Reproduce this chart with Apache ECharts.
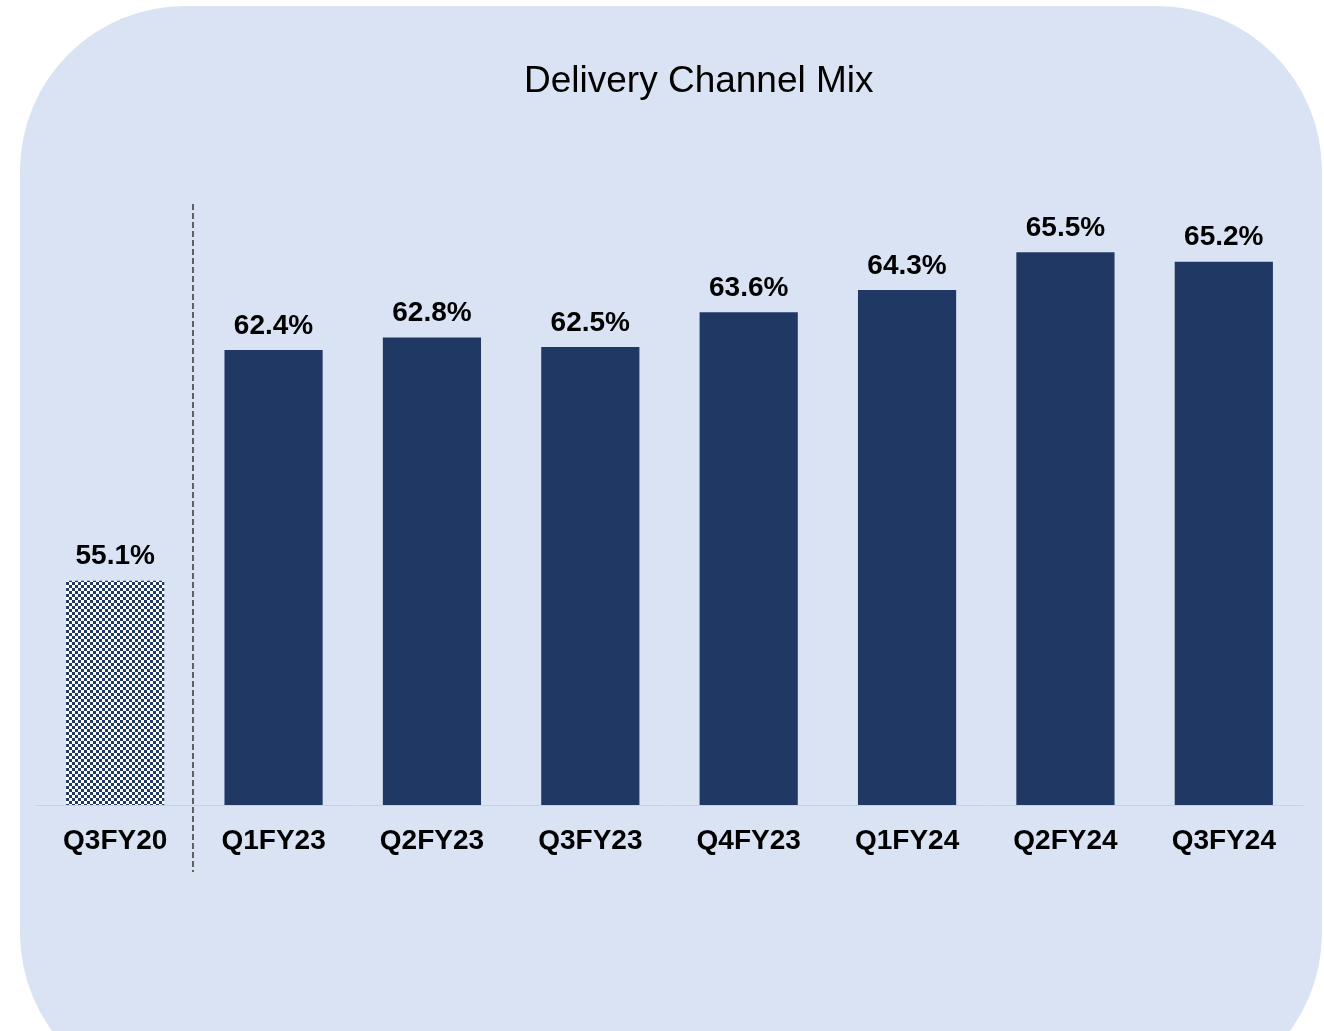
<!DOCTYPE html>
<html>
<head>
<meta charset="utf-8">
<script src="https://cdn.jsdelivr.net/npm/echarts@6/dist/echarts.min.js"></script>
<style>
  html, body { margin: 0; padding: 0; background: #fff; }
  #chart { width: 1324px; height: 1031px; }
</style>
</head>
<body>
<div id="chart"></div>
<script>
  // quarters and delivery channel share (%)
  const quarters = ['Q3FY20', 'Q1FY23', 'Q2FY23', 'Q3FY23', 'Q4FY23', 'Q1FY24', 'Q2FY24', 'Q3FY24']
  const channelShare = [55.1, 62.4, 62.8, 62.5, 63.6, 64.3, 65.5, 65.2]

  const navy = '#203864'
  const font = '"Liberation Sans", Arial, Helvetica, sans-serif'

  // checkered fill for the pre-covid bar
  function checkerPattern() {
    const c = document.createElement('canvas')
    c.width = 6
    c.height = 6
    const ctx = c.getContext('2d')
    ctx.fillStyle = '#ffffff'
    ctx.fillRect(0, 0, 6, 6)
    ctx.fillStyle = navy
    ctx.fillRect(0, 0, 3, 3)
    ctx.fillRect(3, 3, 3, 3)
    return c
  }

  const chart = echarts.init(document.getElementById('chart'))

  const barData = channelShare.map((v, i) => {
    if (i === 0) {
      return { value: v, itemStyle: { color: { image: checkerPattern(), repeat: 'repeat' } } }
    }
    return v
  })

  chart.setOption({
    animation: false,
    backgroundColor: '#ffffff',
    title: {
      text: 'Delivery Channel Mix',
      left: 519,
      top: 58,
      textStyle: { fontFamily: font, fontSize: 37, fontWeight: 'normal', color: '#000' }
    },
    grid: { left: 36, right: 21, top: 110, bottom: 226 },
    xAxis: {
      type: 'category',
      data: quarters,
      axisTick: { show: false },
      axisLine: { lineStyle: { color: '#d0d0d0', width: 1 } },
      axisLabel: { margin: 22, fontFamily: font, fontSize: 28, fontWeight: 'bold', color: '#000' }
    },
    yAxis: {
      type: 'value',
      min: 48,
      max: 70,
      show: false,
      splitLine: { show: false }
    },
    series: [{
      type: 'bar',
      data: barData,
      barWidth: '62%',
      itemStyle: { color: navy },
      label: {
        show: true,
        position: 'top',
        distance: 10,
        formatter: p => p.value.toFixed(1) + '%',
        fontFamily: font,
        fontSize: 28,
        fontWeight: 'bold',
        color: '#000'
      }
    }]
  })

  // rounded panel + dashed divider between the old quarter and the rest
  const x0 = chart.convertToPixel({ xAxisIndex: 0 }, 0)
  const x1 = chart.convertToPixel({ xAxisIndex: 0 }, 1)
  const divX = Math.round((x0 + x1) / 2) - 1

  chart.setOption({
    graphic: [
      {
        type: 'rect',
        z: -10,
        silent: true,
        shape: { x: 20, y: 6, width: 1302, height: 1092, r: 165 },
        style: { fill: '#DAE3F3' }
      },
      {
        type: 'line',
        silent: true,
        shape: { x1: divX, y1: 204, x2: divX, y2: 872 },
        style: { stroke: '#606060', lineWidth: 2, lineDash: [6, 3] }
      }
    ]
  })
</script>
</body>
</html>
